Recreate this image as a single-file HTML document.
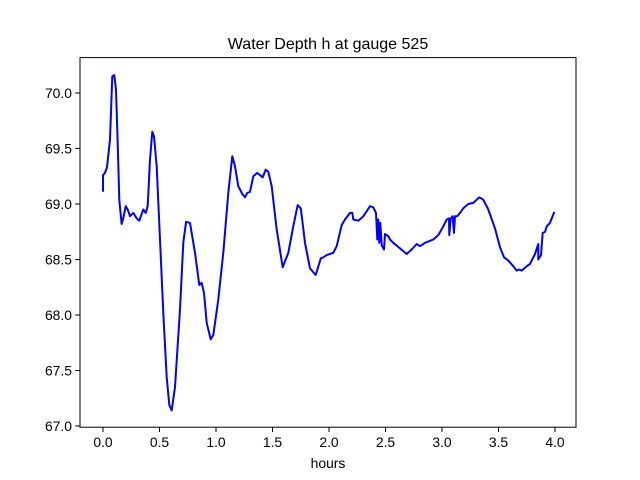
<!DOCTYPE html>
<html><head><meta charset="utf-8">
<style>
html,body{margin:0;padding:0;background:#fff;}
svg{display:block;font-family:"Liberation Sans","DejaVu Sans",sans-serif;}
</style></head>
<body>
<svg id="chart" width="640" height="480" viewBox="0 0 640 480" xmlns="http://www.w3.org/2000/svg">
<rect x="0" y="0" width="640" height="480" fill="#fff"/>
<text x="328" y="49" font-size="16" text-anchor="middle" fill="#000">Water Depth h at gauge 525</text>
<g id="xticks"></g>
<g id="yticks"></g>
<path id="series" fill="none" stroke="#0000ff" stroke-width="2" stroke-linejoin="round"/>
<rect x="80" y="57.6" width="496" height="369.6" fill="none" stroke="#000" stroke-width="1"/>
<text x="328" y="468" font-size="13.9" text-anchor="middle" fill="#000">hours</text>
</svg>
<script>
const hours=[0.0,0.0,0.018,0.035,0.062,0.082,0.100,0.115,0.130,0.144,0.165,0.177,0.201,0.219,0.239,0.268,0.298,0.321,0.357,0.378,0.396,0.416,0.436,0.451,0.475,0.504,0.534,0.564,0.587,0.608,0.637,0.681,0.711,0.735,0.770,0.814,0.852,0.873,0.894,0.918,0.953,0.976,1.020,1.065,1.109,1.144,1.168,1.197,1.233,1.257,1.277,1.301,1.330,1.365,1.389,1.413,1.440,1.463,1.493,1.537,1.590,1.640,1.684,1.723,1.750,1.788,1.832,1.882,1.927,1.950,1.980,2.009,2.038,2.068,2.112,2.142,2.186,2.206,2.215,2.259,2.304,2.363,2.392,2.416,2.427,2.436,2.445,2.454,2.466,2.487,2.496,2.525,2.540,2.569,2.628,2.688,2.732,2.776,2.805,2.850,2.923,2.967,3.012,3.042,3.062,3.065,3.077,3.095,3.106,3.115,3.135,3.159,3.188,3.233,3.277,3.330,3.365,3.410,3.469,3.513,3.549,3.587,3.631,3.661,3.684,3.705,3.750,3.779,3.823,3.852,3.852,3.876,3.891,3.912,3.927,3.956,3.994];
const depth=[69.11,69.26,69.28,69.33,69.58,70.15,70.16,70.03,69.55,69.04,68.82,68.86,68.98,68.95,68.89,68.92,68.87,68.85,68.95,68.92,68.98,69.40,69.65,69.61,69.34,68.68,68.02,67.44,67.19,67.14,67.35,68.05,68.65,68.84,68.83,68.56,68.27,68.29,68.20,67.93,67.78,67.82,68.14,68.56,69.10,69.43,69.34,69.16,69.09,69.06,69.10,69.11,69.25,69.28,69.26,69.24,69.31,69.29,69.16,68.77,68.43,68.56,68.80,68.99,68.96,68.65,68.42,68.36,68.51,68.52,68.54,68.55,68.56,68.62,68.81,68.86,68.92,68.92,68.86,68.85,68.89,68.98,68.97,68.92,68.68,68.86,68.65,68.83,68.63,68.59,68.73,68.71,68.68,68.65,68.60,68.55,68.59,68.64,68.62,68.65,68.68,68.72,68.80,68.86,68.87,68.72,68.87,68.89,68.74,68.89,68.89,68.92,68.96,69.00,69.01,69.06,69.04,68.95,68.78,68.61,68.52,68.49,68.44,68.40,68.41,68.40,68.44,68.46,68.55,68.64,68.50,68.54,68.74,68.75,68.80,68.83,68.93];
const xTickValues=[0,0.5,1,1.5,2,2.5,3,3.5,4];
const xTickLabels=["0.0","0.5","1.0","1.5","2.0","2.5","3.0","3.5","4.0"];
const yTickValues=[67,67.5,68,68.5,69,69.5,70];
const yTickLabels=["67.0","67.5","68.0","68.5","69.0","69.5","70.0"];

function xs(h){return 103+113*h;}
function ys(d){return 93+(70-d)*111;}
const NS="http://www.w3.org/2000/svg";
const xg=document.getElementById('xticks'), yg=document.getElementById('yticks');
xTickValues.forEach((v,i)=>{
  const l=document.createElementNS(NS,'line');
  l.setAttribute('x1',xs(v));l.setAttribute('x2',xs(v));l.setAttribute('y1',427.2);l.setAttribute('y2',432);
  l.setAttribute('stroke','#000');
  
  
  xg.appendChild(l);
  const t=document.createElementNS(NS,'text');
  t.setAttribute('x',xs(v));t.setAttribute('y',447);t.setAttribute('font-size','13.9');t.setAttribute('text-anchor','middle');
  t.textContent=xTickLabels[i];
  
  
  xg.appendChild(t);
});
yTickValues.forEach((v,i)=>{
  const l=document.createElementNS(NS,'line');
  l.setAttribute('x1',75.2);l.setAttribute('x2',80);l.setAttribute('y1',ys(v));l.setAttribute('y2',ys(v));
  l.setAttribute('stroke','#000');
  
  
  yg.appendChild(l);
  const t=document.createElementNS(NS,'text');
  t.setAttribute('x',72);t.setAttribute('y',ys(v)+5);t.setAttribute('font-size','13.9');t.setAttribute('text-anchor','end');
  t.textContent=yTickLabels[i];
  
  
  yg.appendChild(t);
});
let d='';
hours.forEach((h,i)=>{d+=(i?'L':'M')+xs(h).toFixed(1)+' '+ys(depth[i]).toFixed(1);});
document.getElementById('series').setAttribute('d',d);
</script>
</body></html>
